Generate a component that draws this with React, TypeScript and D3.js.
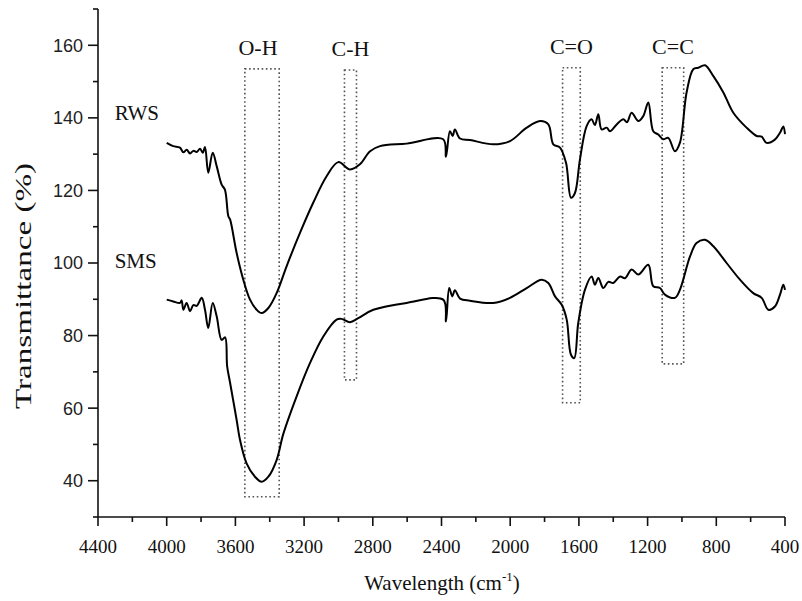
import React from "react";
import * as d3 from "d3";

// Wavenumber (cm-1) and transmittance (%)
const rwsWave = [4000, 3962, 3923, 3903, 3884, 3864, 3845, 3825, 3806, 3790, 3777, 3758, 3732, 3709, 3680, 3661, 3641, 3631, 3593, 3554, 3515, 3476, 3447, 3408, 3360, 3302, 3224, 3147, 3069, 3001, 2933, 2875, 2816, 2758, 2603, 2390, 2374, 2351, 2335, 2322, 2292, 2234, 2099, 2001, 1904, 1826, 1778, 1749, 1710, 1675, 1646, 1623, 1594, 1555, 1526, 1507, 1487, 1468, 1438, 1419, 1380, 1341, 1320, 1293, 1254, 1225, 1196, 1167, 1138, 1109, 1080, 1041, 1012, 973, 934, 905, 866, 817, 759, 701, 624, 565, 536, 507, 459, 429, 410, 400];
const rwsT = [133.1, 132.2, 131.8, 130.5, 131.2, 130.2, 130.9, 130.6, 131.5, 130.4, 132.0, 124.9, 130.4, 126.7, 121.6, 120.2, 112.9, 112.0, 102.8, 95.4, 89.9, 87.1, 86.2, 87.6, 91.7, 99.1, 108.3, 116.6, 123.9, 127.8, 125.8, 127.2, 130.8, 132.2, 132.9, 134.1, 129.3, 136.3, 135.0, 136.8, 134.3, 133.9, 132.7, 133.6, 137.3, 139.1, 138.2, 132.7, 131.8, 127.6, 118.0, 119.3, 128.5, 137.7, 139.6, 138.0, 141.0, 136.8, 137.3, 136.3, 138.2, 139.6, 138.8, 141.4, 139.1, 140.5, 144.2, 136.3, 135.4, 134.1, 134.5, 130.8, 133.1, 147.0, 153.4, 153.8, 154.5, 151.5, 147.0, 141.4, 137.3, 135.0, 134.8, 133.1, 134.0, 135.9, 137.6, 135.5];

const smsWave = [4000, 3962, 3923, 3913, 3903, 3884, 3864, 3845, 3825, 3796, 3777, 3758, 3732, 3709, 3680, 3660, 3648, 3631, 3593, 3573, 3535, 3486, 3447, 3408, 3360, 3321, 3244, 3166, 3089, 3011, 2982, 2933, 2885, 2797, 2603, 2390, 2374, 2355, 2337, 2322, 2292, 2234, 2099, 2001, 1904, 1817, 1778, 1739, 1700, 1671, 1646, 1627, 1604, 1565, 1526, 1507, 1487, 1458, 1429, 1400, 1360, 1332, 1293, 1254, 1196, 1167, 1128, 1099, 1041, 1012, 953, 915, 866, 817, 740, 662, 585, 536, 497, 459, 429, 410, 400];
const smsT = [89.9, 89.4, 89.0, 89.7, 87.1, 89.0, 86.7, 88.4, 88.2, 90.4, 87.1, 82.1, 89.0, 85.3, 78.8, 79.5, 71.5, 67.0, 56.8, 51.2, 44.8, 41.1, 39.7, 41.1, 45.7, 52.9, 63.2, 72.4, 79.7, 84.4, 84.6, 83.7, 84.8, 87.1, 89.0, 89.9, 83.9, 93.1, 90.8, 92.5, 90.2, 89.6, 89.0, 90.4, 93.1, 95.4, 94.5, 90.8, 88.5, 84.4, 74.7, 73.8, 83.4, 92.6, 96.3, 94.0, 95.9, 93.1, 94.8, 94.5, 96.3, 95.8, 98.2, 96.8, 99.5, 93.6, 93.1, 91.3, 90.4, 92.6, 101.8, 105.5, 106.4, 104.6, 100.0, 95.4, 91.7, 90.4, 87.1, 88.0, 91.3, 94.0, 92.6];

const seriesNames = ["RWS", "SMS"];
const seriesLabelPos = [[4000, 139.5], [4000, 98.5]];

// Functional group boxes
const bandLabels = ["O-H", "C-H", "C=O", "C=C"];
const bandWaveHigh = [3545, 2965, 1695, 1115];
const bandWaveLow = [3345, 2895, 1592, 990];
const bandTop = [153.5, 153.2, 153.8, 153.8];
const bandBottom = [35.6, 67.8, 61.5, 72.2];

const xMajorTicks = [4400, 4000, 3600, 3200, 2800, 2400, 2000, 1600, 1200, 800, 400];
const xMinorTicks = [4200, 3800, 3400, 3000, 2600, 2200, 1800, 1400, 1000, 600];
const yMajorTicks = [40, 60, 80, 100, 120, 140, 160];
const yMinorTicks = [30, 50, 70, 90, 110, 130, 150, 170];

const W = 802;
const H = 601;

export default function App() {
  const x = d3.scaleLinear().domain([4400, 400]).range([98, 785]);
  const y = d3.scaleLinear().domain([30, 170]).range([517, 9]);

  const line = d3
    .line<[number, number]>()
    .x((d) => x(d[0]))
    .y((d) => y(d[1]))
    .curve(d3.curveCatmullRom.alpha(0.5));

  const rws: [number, number][] = rwsWave.map((w, i) => [w, rwsT[i]]);
  const sms: [number, number][] = smsWave.map((w, i) => [w, smsT[i]]);

  const axisColor = "#111";
  const serif = "'Liberation Serif', 'Times New Roman', serif";
  const sans = "'Liberation Sans', Arial, sans-serif";

  return (
    <svg
      width={W}
      height={H}
      style={{ position: "absolute", left: 0, top: 0, background: "#fff" }}
    >
      <rect x={0} y={0} width={W} height={H} fill="#fff" />
      {bandLabels.map((lab, i) => {
        const x0 = x(bandWaveHigh[i]);
        const x1 = x(bandWaveLow[i]);
        const y0 = y(bandTop[i]);
        const y1 = y(bandBottom[i]);
        return (
          <g key={lab}>
            <rect
              x={x0}
              y={y0}
              width={x1 - x0}
              height={y1 - y0}
              fill="none"
              stroke="#555"
              strokeWidth={1.6}
              strokeDasharray="1.6 2.6"
            />
            <text
              x={(x0 + x1) / 2 - (i === 0 ? 4 : 0)}
              y={y(bandTop[i]) - 14}
              textAnchor="middle"
              fontFamily={serif}
              fontSize={22}
              fill="#111"
            >
              {lab}
            </text>
          </g>
        );
      })}

      <path d={line(rws) || ""} fill="none" stroke="#000" strokeWidth={2} strokeLinejoin="round" />
      <path d={line(sms) || ""} fill="none" stroke="#000" strokeWidth={2} strokeLinejoin="round" />

      {seriesNames.map((n, i) => (
        <text
          key={n}
          x={x(seriesLabelPos[i][0]) - 52}
          y={y(seriesLabelPos[i][1])}
          fontFamily={serif}
          fontSize={21}
          fill="#111"
        >
          {n}
        </text>
      ))}

      <line x1={x(4400)} x2={x(400)} y1={y(30)} y2={y(30)} stroke={axisColor} strokeWidth={1.6} />
      <line x1={x(4400)} x2={x(4400)} y1={y(30)} y2={y(170)} stroke={axisColor} strokeWidth={1.6} />

      {xMajorTicks.map((t) => (
        <g key={"xM" + t}>
          <line x1={x(t)} x2={x(t)} y1={y(30)} y2={y(30) + 9} stroke={axisColor} strokeWidth={1.6} />
          <text x={x(t)} y={y(30) + 36} textAnchor="middle" fontFamily={serif} fontSize={19} fill="#111">
            {t}
          </text>
        </g>
      ))}
      {xMinorTicks.map((t) => (
        <line key={"xm" + t} x1={x(t)} x2={x(t)} y1={y(30)} y2={y(30) + 5} stroke={axisColor} strokeWidth={1.6} />
      ))}
      {yMajorTicks.map((t) => (
        <g key={"yM" + t}>
          <line x1={x(4400) - 10} x2={x(4400)} y1={y(t)} y2={y(t)} stroke={axisColor} strokeWidth={1.6} />
          <text x={x(4400) - 15} y={y(t)} dy="0.36em" textAnchor="end" fontFamily={sans} fontSize={18} fill="#222">
            {t}
          </text>
        </g>
      ))}
      {yMinorTicks.map((t) => (
        <line key={"ym" + t} x1={x(4400) - 5} x2={x(4400)} y1={y(t)} y2={y(t)} stroke={axisColor} strokeWidth={1.6} />
      ))}

      <text x={442} y={590} textAnchor="middle" fontFamily={serif} fontSize={21} fill="#111">
        Wavelength (cm
        <tspan fontSize={13} dy={-9}>-1</tspan>
        <tspan dy={9}>)</tspan>
      </text>
      <text
        transform="translate(31,286) rotate(-90)"
        textAnchor="middle"
        fontFamily={serif}
        fontSize={24}
        fill="#111"
        textLength={246}
        lengthAdjust="spacingAndGlyphs"
      >
        Transmittance (%)
      </text>
    </svg>
  );
}
